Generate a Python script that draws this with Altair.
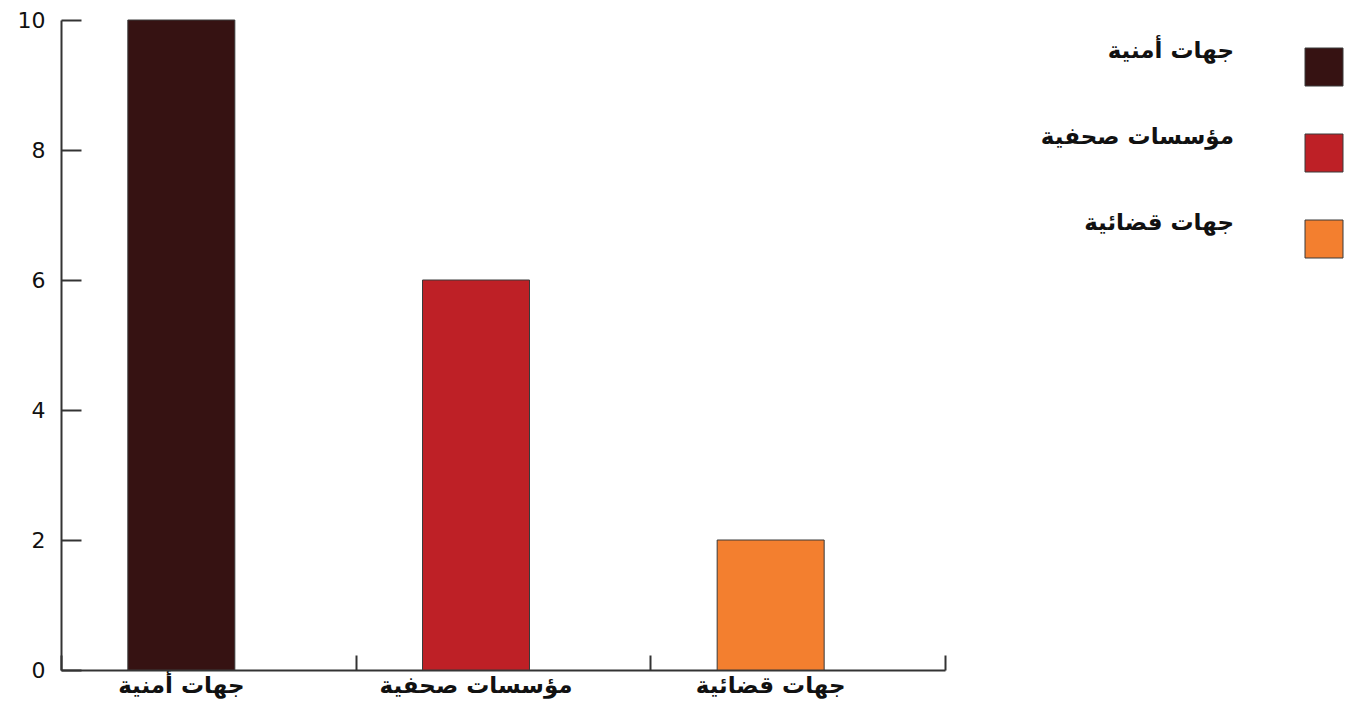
import altair as alt
import pandas as pd

categories = ["جهات أمنية", "مؤسسات صحفية", "جهات قضائية"]
values = [10, 6, 2]
colors = ["#361212", "#BE2026", "#F37F2F"]
y_ticks = [0, 2, 4, 6, 8, 10]

df = pd.DataFrame({"category": categories, "value": values})

x_scale = alt.Scale(domain=categories, paddingInner=0, paddingOuter=0)
y_scale = alt.Scale(domain=[0, 10], nice=False)
color_scale = alt.Scale(domain=categories, range=colors)

base = alt.Chart(df)

bars = base.mark_bar(size=107, xOffset=-27, stroke="#3a3a3a", strokeWidth=1).encode(
    x=alt.X(
        "category:N", scale=x_scale, sort=categories,
        axis=alt.Axis(orient="bottom", title=None, ticks=False, tickSize=0, labelAngle=0,
                      labelFont="DejaVu Sans", labelFontWeight="bold", labelFontSize=23,
                      labelColor="#111111", labelPadding=4, labelOffset=-27, labelLimit=300,
                      domainColor="#333333", domainWidth=2, grid=False),
    ),
    y=alt.Y(
        "value:Q", scale=y_scale,
        axis=alt.Axis(orient="left", title=None, ticks=False, tickSize=0, values=y_ticks,
                      labelFont="DejaVu Sans", labelFontSize=22, labelColor="#111111",
                      labelPadding=16, domainColor="#333333", domainWidth=2, grid=False),
    ),
    color=alt.Color("category:N", scale=color_scale, legend=None),
)

tick_layer = base.mark_bar(opacity=0).encode(
    x=alt.X(
        "category:N", scale=x_scale, sort=categories,
        axis=alt.Axis(orient="top", offset=-650, title=None, labels=False, domain=False,
                      tickBand="extent", tickSize=15, tickWidth=2, tickColor="#333333", grid=False),
    ),
    y=alt.Y(
        "value:Q", scale=y_scale,
        axis=alt.Axis(orient="right", offset=-884, title=None, labels=False, domain=False,
                      values=y_ticks, tickSize=20, tickWidth=2, tickColor="#333333", grid=False),
    ),
)

# manual legend (labels to the left of the swatches, as in the original)
legend_base = base.transform_window(idx="row_number()")
legend_y = alt.Y("idx:Q", scale=alt.Scale(domain=[1, 3], range=[47, 219]), axis=None)

legend_sq = legend_base.mark_square(size=1444, opacity=1, stroke="#3a3a3a", strokeWidth=1).encode(
    x=alt.value(1263),
    y=legend_y,
    color=alt.Color("category:N", scale=color_scale, legend=None),
)

legend_txt = legend_base.mark_text(align="right", baseline="middle", dy=-16, font="DejaVu Sans",
                                   fontWeight="bold", fontSize=23, color="#111111").encode(
    x=alt.value(1173),
    y=legend_y,
    text="category:N",
)

chart = alt.layer(bars, tick_layer, legend_sq, legend_txt).resolve_axis(
    x="independent", y="independent"
).resolve_scale(
    y="independent"
).properties(
    width=884, height=650,
    autosize=alt.AutoSizeParams(type="none"),
    padding={"left": 61, "top": 20, "right": 407, "bottom": 35},
    background="white",
).configure_view(stroke=None)

chart.save("out.html", embed_options={"renderer": "svg", "actions": False})
